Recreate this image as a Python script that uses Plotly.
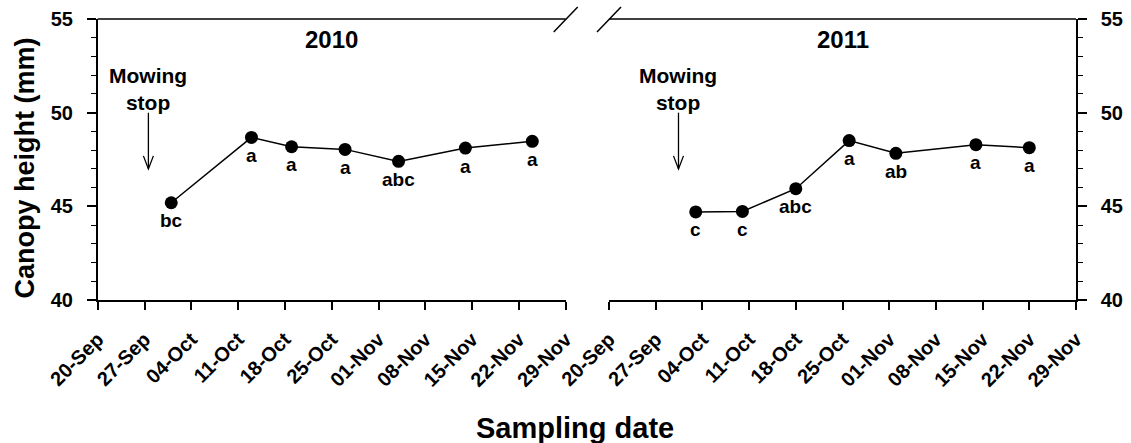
import plotly.graph_objects as go

# ---------------- data ----------------
dates_2010 = ["2010-10-01", "2010-10-13", "2010-10-19", "2010-10-27", "2010-11-04", "2010-11-14", "2010-11-24"]
height_2010 = [45.19, 48.68, 48.18, 48.04, 47.40, 48.11, 48.47]
letters_2010 = ["bc", "a", "a", "a", "abc", "a", "a"]

dates_2011 = ["2011-10-03", "2011-10-10", "2011-10-18", "2011-10-26", "2011-11-02", "2011-11-14", "2011-11-22"]
height_2011 = [44.70, 44.73, 45.94, 48.51, 47.83, 48.29, 48.13]
letters_2011 = ["c", "c", "abc", "a", "ab", "a", "a"]

mowing_stop = {"2010": "2010-09-27 14:00", "2011": "2011-09-30 10:00"}
x_ranges = {"2010": ["2010-09-20", "2010-11-29"], "2011": ["2011-09-20", "2011-11-29"]}
y_range = [40, 55]

W, H = 1131, 443
FONT = "Liberation Sans, Arial, sans-serif"

def px_x(p):
    return p / W

def px_y(p):
    return 1 - p / H

plot_top, plot_bottom = 19, 300
left_dom = [px_x(97.7), px_x(565.7)]
right_dom = [px_x(609), px_x(1076)]
y_dom = [px_y(plot_bottom), px_y(plot_top)]

fig = go.Figure()
line_style = dict(color="black", width=1.5)
marker_style = dict(color="black", size=13, symbol="circle")

fig.add_trace(go.Scatter(x=dates_2010, y=height_2010, mode="lines+markers",
                         line=line_style, marker=marker_style, xaxis="x", yaxis="y",
                         showlegend=False))
fig.add_trace(go.Scatter(x=dates_2011, y=height_2011, mode="lines+markers",
                         line=line_style, marker=marker_style, xaxis="x2", yaxis="y2",
                         showlegend=False))

tickfont_x = dict(family=FONT, size=20, color="black", weight="bold")
tickfont_y = dict(family=FONT, size=20, color="black", weight="bold")

def xaxis_cfg(dom, rng, anchor):
    return dict(domain=dom, type="date", range=[rng[0] + " 00:00:00", rng[1] + " 00:00:00"],
                tick0=rng[0], dtick=7 * 86400000, tickformat="%d-%b", tickangle=-45,
                ticks="outside", ticklen=8, tickwidth=1.5, tickcolor="black",
                ticklabelstandoff=10,
                showline=True, linecolor="black", linewidth=1.5, showgrid=False,
                zeroline=False, anchor=anchor, tickfont=tickfont_x, automargin=False)

def yaxis_cfg(anchor, side):
    return dict(domain=y_dom, range=y_range, dtick=5, tick0=40, ticks="outside", ticklen=9,
                tickwidth=1.5, tickcolor="black", showline=True, linecolor="black",
                linewidth=1.5, showgrid=False, zeroline=False, anchor=anchor, side=side,
                tickfont=tickfont_y, automargin=False, ticklabelstandoff=10,
                minor=dict(dtick=1, tick0=40, ticks="outside", ticklen=5, tickwidth=1.2,
                           tickcolor="black", showgrid=False))

fig.update_layout(
    width=W, height=H, autosize=False,
    margin=dict(l=0, r=0, t=0, b=0),
    paper_bgcolor="white", plot_bgcolor="white",
    xaxis=xaxis_cfg(left_dom, x_ranges["2010"], "y"),
    xaxis2=xaxis_cfg(right_dom, x_ranges["2011"], "y2"),
    yaxis=yaxis_cfg("x", "left"),
    yaxis2=yaxis_cfg("x2", "right"),
)

annotations = []
shapes = []
# letters
for xs, ys, ls, xr, yr in [(dates_2010, height_2010, letters_2010, "x", "y"),
                           (dates_2011, height_2011, letters_2011, "x2", "y2")]:
    for xv, yv, lab in zip(xs, ys, ls):
        annotations.append(dict(x=xv, y=yv, xref=xr, yref=yr, text=lab, showarrow=False,
                                yshift=-18, yanchor="middle", xanchor="center",
                                font=dict(family=FONT, size=19, color="black", weight="bold")))

# panel titles, mowing stop text & arrows, top border with break marks
for year, xr, yr in [("2010", "x", "y"), ("2011", "x2", "y2")]:
    annotations.append(dict(x=0.5, y=px_y(40), xref=xr + " domain", yref="paper", text=year,
                            showarrow=False, yanchor="middle", xanchor="center",
                            font=dict(family=FONT, size=24, color="black", weight="bold")))
    annotations.append(dict(x=mowing_stop[year], y=51.25, xref=xr, yref=yr,
                            text="Mowing<br>stop", showarrow=False, yanchor="middle",
                            xanchor="center",
                            font=dict(family=FONT, size=21, color="black", weight="bold")))
    shapes.append(dict(type="line", xref=xr, yref=yr, x0=mowing_stop[year], x1=mowing_stop[year],
                       y0=50.0, y1=47.0, line=dict(color="black", width=1.3)))
    shapes.append(dict(type="path", xref=xr, yref=yr, xsizemode="pixel", ysizemode="pixel",
                       xanchor=mowing_stop[year], yanchor=47.0,
                       path="M-5,13 L0,0 L5,13", line=dict(color="black", width=1.3)))
    shapes.append(dict(type="line", xref=xr + " domain", yref=yr + " domain", x0=0, x1=1,
                       y0=1, y1=1, line=dict(color="black", width=1.5)))

for xr, yr, anchor in [("x", "y", 1), ("x2", "y2", 0)]:
    shapes.append(dict(type="line", xref=xr + " domain", yref=yr + " domain",
                       xsizemode="pixel", ysizemode="pixel", xanchor=anchor, yanchor=1,
                       x0=-12, x1=12, y0=-13, y1=12, line=dict(color="black", width=1.5)))

annotations.append(dict(x=px_x(575), y=px_y(428), xref="paper", yref="paper",
                        text="Sampling date", showarrow=False, xanchor="center", yanchor="middle",
                        font=dict(family=FONT, size=29, color="black", weight="bold")))
annotations.append(dict(x=px_x(24.5), y=px_y(168), xref="paper", yref="paper",
                        text="Canopy height (mm)", showarrow=False, textangle=-90,
                        xanchor="center", yanchor="middle",
                        font=dict(family=FONT, size=27, color="black", weight="bold")))

fig.update_layout(annotations=annotations, shapes=shapes)
fig.write_html("out.html")
